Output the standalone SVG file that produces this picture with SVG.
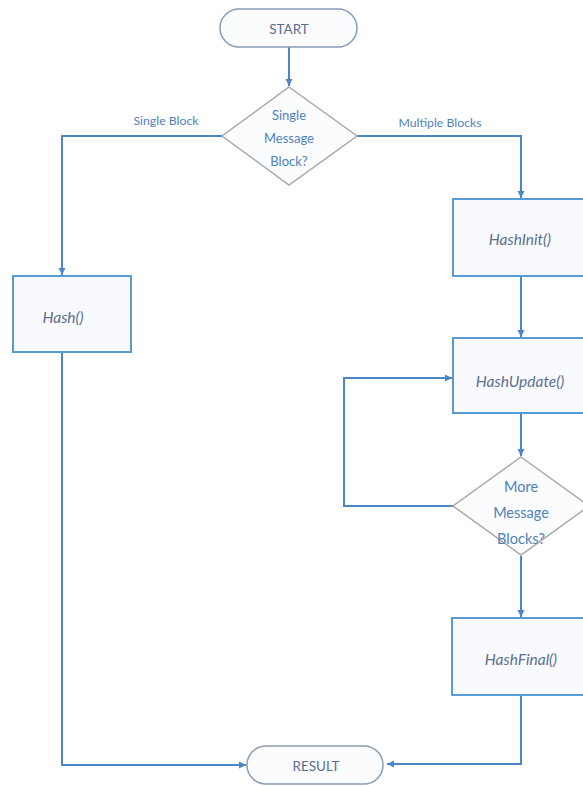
<svg xmlns="http://www.w3.org/2000/svg" width="583" height="786" viewBox="0 0 583 786">
<defs>
<marker id="arr" markerWidth="8" markerHeight="8" refX="7" refY="4" orient="auto" markerUnits="userSpaceOnUse">
<path d="M0,0.5 L7,4 L0,7.5 Z" fill="#4a86c8"/>
</marker>
<style>
.box{fill:#f8fafd;stroke:#5b9bd5;stroke-width:2}
.term{fill:#fbfcfe;stroke:#8a9bb5;stroke-width:1.5}
.dia{fill:#fbfcfe;stroke:#a8a8a8;stroke-width:1.5}
.con{fill:none;stroke:#4a86c8;stroke-width:2}
.lbl{font-family:Lato,"Liberation Sans",sans-serif;font-size:12.3px;fill:#4f81bd;text-anchor:middle}
.dt{font-family:Lato,"Liberation Sans",sans-serif;font-size:13px;fill:#4f81bd;text-anchor:middle;dominant-baseline:central}
.dt2{font-family:Lato,"Liberation Sans",sans-serif;font-size:14.5px;fill:#4f81bd;text-anchor:middle;dominant-baseline:central}
.bt{font-family:Lato,"Liberation Sans",sans-serif;font-size:15.5px;font-style:italic;fill:#5e6f90;text-anchor:middle;dominant-baseline:central}
.tt{font-family:Lato,"Liberation Sans",sans-serif;font-size:13.5px;fill:#5a6b8c;text-anchor:middle;dominant-baseline:central}
</style>
</defs>
<rect width="583" height="786" fill="#ffffff"/>
<g id="connectors">
<path class="con" d="M289,47 L289,86" marker-end="url(#arr)"/>
<path class="con" d="M222,136 L62,136 L62,275" marker-end="url(#arr)"/>
<path class="con" d="M357,136 L521,136 L521,198" marker-end="url(#arr)"/>
<path class="con" d="M521,276 L521,337" marker-end="url(#arr)"/>
<path class="con" d="M521,413 L521,456" marker-end="url(#arr)"/>
<path class="con" d="M453,506 L344,506 L344,378 L452,378" marker-end="url(#arr)"/>
<path class="con" d="M521,556 L521,617" marker-end="url(#arr)"/>
<path class="con" d="M521,695 L521,764 L387,764" marker-end="url(#arr)"/>
<path class="con" d="M62,352 L62,765 L246,765" marker-end="url(#arr)"/>
<text class="lbl" x="166" y="125">Single Block</text>
<text class="lbl" x="440" y="127">Multiple Blocks</text>
</g>
<g id="start">
<rect class="term" x="220" y="9" width="137" height="38" rx="19"/>
<text class="tt" x="289" y="29">START</text>
</g>
<g id="single">
<polygon class="dia" points="289,87 357,136 289,185 222,136"/>
<text class="dt" x="289" y="115">Single</text>
<text class="dt" x="289" y="138">Message</text>
<text class="dt" x="289" y="161">Block?</text>
</g>
<g id="hash">
<rect class="box" x="13" y="276" width="118" height="76"/>
<text class="bt" x="63" y="317">Hash()</text>
</g>
<g id="hashinit">
<rect class="box" x="453" y="199" width="140" height="77"/>
<text class="bt" x="520" y="239">HashInit()</text>
</g>
<g id="hashupdate">
<rect class="box" x="453" y="338" width="140" height="75"/>
<text class="bt" x="520" y="381">HashUpdate()</text>
</g>
<g id="more">
<polygon class="dia" points="521,457 589,506 521,555 453,506"/>
<text class="dt2" x="521" y="486">More</text>
<text class="dt2" x="521" y="512">Message</text>
<text class="dt2" x="521" y="538">Blocks?</text>
</g>
<g id="hashfinal">
<rect class="box" x="452" y="618" width="140" height="77"/>
<text class="bt" x="521" y="659">HashFinal()</text>
</g>
<g id="result">
<rect class="term" x="247" y="746" width="136" height="38" rx="19"/>
<text class="tt" x="316" y="766">RESULT</text>
</g>
</svg>
